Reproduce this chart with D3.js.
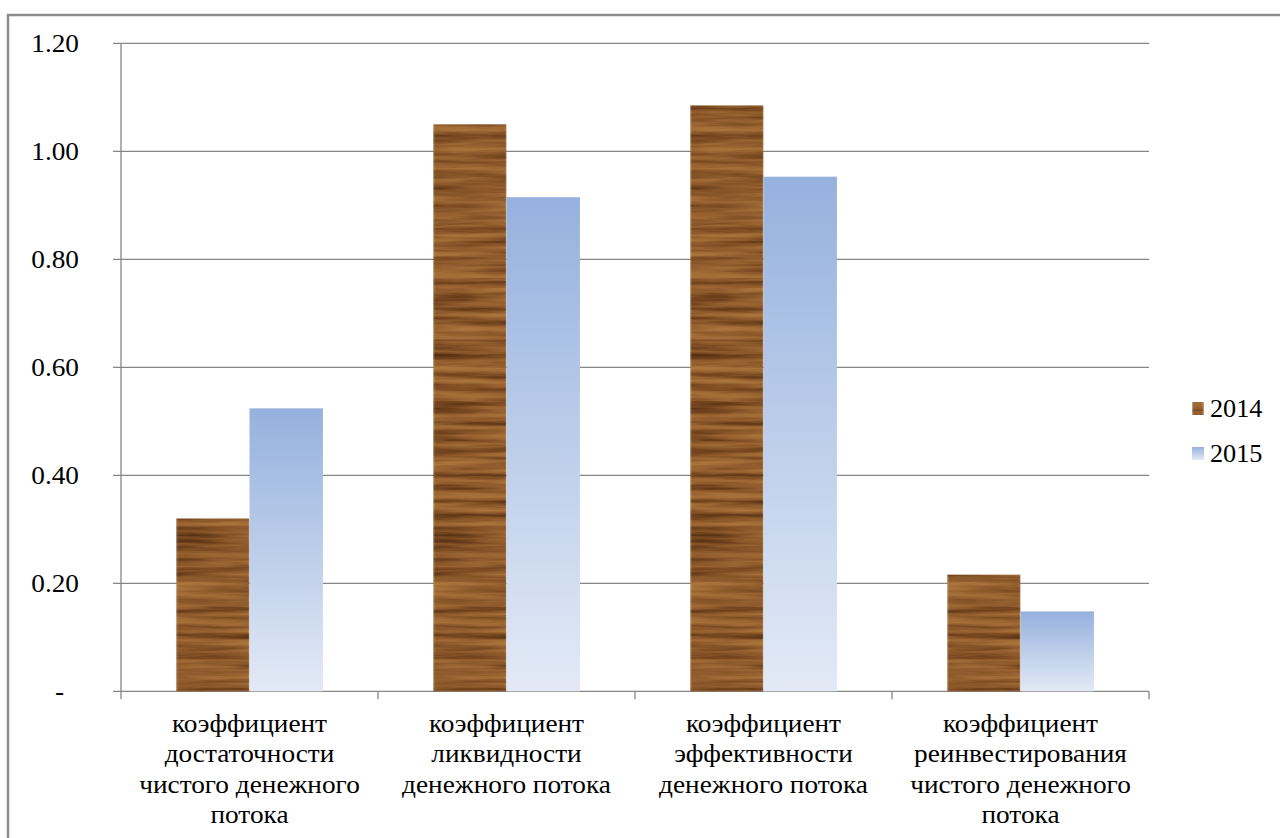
<!DOCTYPE html>
<html>
<head>
<meta charset="utf-8">
<script src="https://cdn.jsdelivr.net/npm/d3@7"></script>
<style>
  html, body { margin: 0; padding: 0; background: #fff; }
  svg { display: block; }
</style>
</head>
<body>
<svg id="chart" width="1280" height="838"></svg>
<script>
// Cash-flow ratios, 2014 vs 2015
const categories = [
  "коэффициент достаточности чистого денежного потока",
  "коэффициент ликвидности денежного потока",
  "коэффициент эффективности денежного потока",
  "коэффициент реинвестирования чистого денежного потока"
];
const categoryLines = [
  ["коэффициент", "достаточности", "чистого денежного", "потока"],
  ["коэффициент", "ликвидности", "денежного потока"],
  ["коэффициент", "эффективности", "денежного потока"],
  ["коэффициент", "реинвестирования", "чистого денежного", "потока"]
];
const seriesNames = ["2014", "2015"];
const values2014 = [0.32, 1.05, 1.085, 0.216];
const values2015 = [0.524, 0.915, 0.953, 0.148];
const yTicks = [0, 0.2, 0.4, 0.6, 0.8, 1.0, 1.2];

const FONT = "'Liberation Serif', 'Times New Roman', Tinos, 'DejaVu Serif', serif";
const STRETCH = 1.05; // slightly widened glyphs

const svg = d3.select("#chart")
  .attr("font-family", FONT);
const defs = svg.append("defs");

// Wood-grain fill for the 2014 series: stretched fractal noise tinted brown
const wood = defs.append("filter")
  .attr("id", "wood")
  .attr("x", 0).attr("y", 0).attr("width", 1).attr("height", 1)
  .attr("color-interpolation-filters", "sRGB");
wood.append("feTurbulence")
  .attr("type", "fractalNoise")
  .attr("baseFrequency", "0.009 0.15")
  .attr("numOctaves", 4)
  .attr("seed", 11)
  .attr("result", "noise");
wood.append("feColorMatrix")
  .attr("in", "noise")
  .attr("type", "matrix")
  .attr("values", "1 0 0 0 0  1 0 0 0 0  1 0 0 0 0  0 0 0 0 1")
  .attr("result", "grey");
const ct = wood.append("feComponentTransfer").attr("in", "grey").attr("result", "tinted");
ct.append("feFuncR").attr("type", "table").attr("tableValues", "0.31 0.35 0.41 0.48 0.54 0.59 0.63 0.66 0.68 0.70");
ct.append("feFuncG").attr("type", "table").attr("tableValues", "0.17 0.20 0.24 0.29 0.34 0.38 0.42 0.45 0.47 0.49");
ct.append("feFuncB").attr("type", "table").attr("tableValues", "0.07 0.08 0.10 0.13 0.16 0.19 0.21 0.23 0.25 0.26");
wood.append("feGaussianBlur").attr("stdDeviation", "0.8 0.5").attr("result", "soft");
wood.append("feComposite")
  .attr("in", "soft").attr("in2", "SourceGraphic").attr("operator", "in");

// Vertical light-blue gradient for the 2015 series
const blue = defs.append("linearGradient")
  .attr("id", "blueGrad")
  .attr("x1", 0).attr("y1", 0).attr("x2", 0).attr("y2", 1);
blue.append("stop").attr("offset", "0%").attr("stop-color", "#95b1de");
blue.append("stop").attr("offset", "100%").attr("stop-color", "#e3eaf6");

// Outer chart frame
svg.append("rect")
  .attr("x", 8).attr("y", 15)
  .attr("width", 1400).attr("height", 900)
  .attr("fill", "none")
  .attr("stroke", "#8c8c8c")
  .attr("stroke-width", 2.5);

const plotLeft = 121, plotRight = 1149;
const y = d3.scaleLinear().domain([0, 1.2]).range([691.3, 43.3]);
const x0 = d3.scaleBand().domain(categories).range([plotLeft, plotRight]).paddingInner(0).paddingOuter(0);
const x1 = d3.scaleBand().domain(seriesNames).range([0, x0.bandwidth()]).paddingInner(0).paddingOuter(0.75);

const gridColor = "#868686";

// Horizontal gridlines with left tick marks
svg.append("g").selectAll("line")
  .data(yTicks)
  .join("line")
  .attr("x1", plotLeft - 8).attr("x2", plotRight)
  .attr("y1", d => y(d)).attr("y2", d => y(d))
  .attr("stroke", gridColor).attr("stroke-width", 1.3);

// Y axis line
svg.append("line")
  .attr("x1", plotLeft).attr("x2", plotLeft)
  .attr("y1", y(1.2)).attr("y2", y(0))
  .attr("stroke", gridColor).attr("stroke-width", 1.3);

// Y tick labels
const fmt = d3.format(".2f");
svg.append("g").selectAll("text")
  .data(yTicks)
  .join("text")
  .attr("transform", d => `translate(${d === 0 ? 64 : 79},${y(d)}) scale(${STRETCH},1)`)
  .attr("dy", "0.35em")
  .attr("text-anchor", "end")
  .attr("font-size", 26)
  .text(d => d === 0 ? "-" : fmt(d));

// X axis tick marks at category boundaries
const boundaries = categories.map(c => x0(c)).concat([plotRight]);
svg.append("g").selectAll("line")
  .data(boundaries)
  .join("line")
  .attr("x1", d => d).attr("x2", d => d)
  .attr("y1", y(0)).attr("y2", y(0) + 8)
  .attr("stroke", gridColor).attr("stroke-width", 1.3);

// Bars
const rows = categories.map((c, i) => ({ cat: c, v: [values2014[i], values2015[i]] }));
const groups = svg.append("g").selectAll("g")
  .data(rows)
  .join("g")
  .attr("transform", d => `translate(${x0(d.cat)},0)`);

groups.selectAll("rect")
  .data(d => d.v.map((v, j) => ({ s: seriesNames[j], v })))
  .join("rect")
  .attr("x", d => x1(d.s))
  .attr("width", x1.bandwidth())
  .attr("y", d => y(d.v))
  .attr("height", d => y(0) - y(d.v))
  .attr("fill", d => d.s === "2014" ? "#8a5a2c" : "url(#blueGrad)")
  .attr("filter", d => d.s === "2014" ? "url(#wood)" : null);

// Category labels, wrapped on several lines
const labels = svg.append("g").selectAll("text")
  .data(categories)
  .join("text")
  .attr("transform", c => `translate(${x0(c) + x0.bandwidth() / 2},0) scale(${STRETCH},1)`)
  .attr("text-anchor", "middle")
  .attr("font-size", 26);
labels.each(function (c, i) {
  d3.select(this).selectAll("tspan")
    .data(categoryLines[i])
    .join("tspan")
    .attr("x", 0)
    .attr("y", (d, k) => 732 + k * 30.5)
    .text(d => d);
});

// Legend
const legend = svg.append("g").selectAll("g")
  .data(seriesNames)
  .join("g")
  .attr("transform", (d, i) => `translate(1192,${402 + i * 45})`);
legend.append("rect")
  .attr("width", 12).attr("height", 13)
  .attr("fill", d => d === "2014" ? "#8a5a2c" : "url(#blueGrad)")
  .attr("filter", d => d === "2014" ? "url(#wood)" : null);
legend.append("text")
  .attr("transform", `translate(18,15) scale(${STRETCH},1)`)
  .attr("font-size", 25)
  .text(d => d);
</script>
</body>
</html>
